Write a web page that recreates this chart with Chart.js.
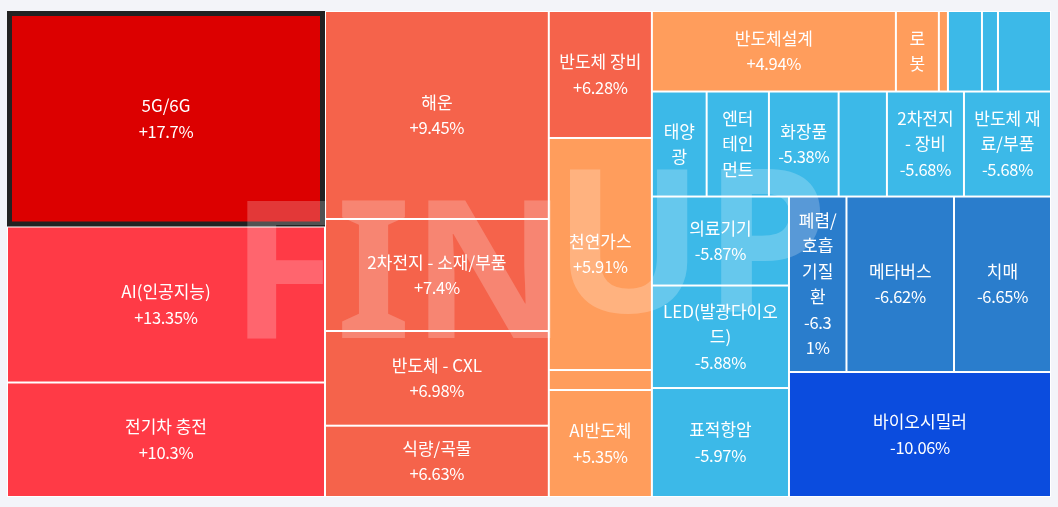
<!DOCTYPE html>
<html><head><meta charset="utf-8">
<script src="https://cdn.jsdelivr.net/npm/chart.js@4.4.1/dist/chart.umd.min.js"></script>
<style>html,body{margin:0;padding:0;background:#f3f4f9;overflow:hidden}canvas{display:block}</style>
</head><body>
<canvas id="c" width="1058" height="507"></canvas>
<script>
// ---- data (ordered by change, descending) ----
const names = ['5G/6G','AI(인공지능)','전기차 충전','해운','2차전지 - 소재/부품','반도체 - CXL','식량/곡물','반도체 장비','천연가스','','AI반도체','반도체설계','로봇','','','','','태양광','엔터테인먼트','화장품','','2차전지 - 장비','반도체 재료/부품','의료기기','LED(발광다이오드)','표적항암','폐렴/호흡기질환','메타버스','치매','바이오시밀러'];
const changes = [17.7,13.35,10.3,9.45,7.4,6.98,6.63,6.28,5.91,5.62,5.35,4.94,4.71,4.32,-4.93,-5.02,-5.11,-5.21,-5.33,-5.38,-5.52,-5.68,-5.68,-5.87,-5.88,-5.97,-6.31,-6.62,-6.65,-10.06];
const sizes = [685.3,496.1,364.1,465.5,250.7,211.9,159.6,130.9,239.2,20.6,110.3,196.5,34.6,7.3,27.4,12.9,42.7,57.5,65.4,73.2,50.7,80.9,91.4,122.0,140.5,149.4,100.9,188.7,170.2,327.5];
const selectedIndex = 0;

function colorFor(v){
  if (v >= 15) return '#dc0000';
  if (v >= 10) return '#ff3a46';
  if (v >= 6) return '#f5634b';
  if (v > 0) return '#ff9d5c';
  if (v > -6) return '#3cb9e8';
  if (v > -10) return '#2a7dcc';
  return '#0b4cde';
}
function fmt(v){ return (v > 0 ? '+' : '') + v + '%'; }

const PHI = (1 + Math.sqrt(5)) / 2;
function squarify(values, x0, y0, x1, y1){
  const n = values.length, out = new Array(n);
  let value = values.reduce((a,b)=>a+b,0), i0 = 0, i1 = 0;
  while (i0 < n){
    const dx = x1 - x0, dy = y1 - y0;
    let sumValue, minValue, maxValue, newRatio, minRatio, alpha, beta, nodeValue;
    do sumValue = values[i1++]; while (!sumValue && i1 < n);
    minValue = maxValue = sumValue;
    alpha = Math.max(dy/dx, dx/dy) / (value * PHI);
    beta = sumValue * sumValue * alpha;
    minRatio = Math.max(maxValue/beta, beta/minValue);
    for (; i1 < n; ++i1){
      sumValue += nodeValue = values[i1];
      if (nodeValue < minValue) minValue = nodeValue;
      if (nodeValue > maxValue) maxValue = nodeValue;
      beta = sumValue * sumValue * alpha;
      newRatio = Math.max(maxValue/beta, beta/minValue);
      if (newRatio > minRatio){ sumValue -= nodeValue; break; }
      minRatio = newRatio;
    }
    if (dx < dy){
      const ny = dy ? y0 + dy * sumValue / value : y1;
      let x = x0; const k = sumValue ? dx / sumValue : 0;
      for (let i = i0; i < i1; i++){ const w = values[i]*k; out[i] = {x0:x, y0:y0, x1:x+w, y1:ny}; x += w; }
      y0 = ny;
    } else {
      const nx = dx ? x0 + dx * sumValue / value : x1;
      let y = y0; const k = sumValue ? dy / sumValue : 0;
      for (let i = i0; i < i1; i++){ const h = values[i]*k; out[i] = {x0:x0, y0:y, x1:nx, y1:y+h}; y += h; }
      x0 = nx;
    }
    value -= sumValue; i0 = i1;
  }
  return out;
}

function tokenize(s){
  const chars = Array.from(s), toks = [];
  for (const c of chars){
    const last = toks.length ? toks[toks.length-1] : null;
    if (last !== null && last !== ' ' && /[)%\/.,]/.test(c)) toks[toks.length-1] += c;
    else if (last !== null && /\($/.test(last)) toks[toks.length-1] += c;
    else toks.push(c);
  }
  return toks;
}
function wrap(ctx, text, maxW){
  const toks = tokenize(text), lines = [];
  let cur = '';
  for (const t of toks){
    if (cur === '' && t === ' ') continue;
    if (t !== ' ' && ctx.measureText(t).width > maxW) return null;
    const trial = cur + t;
    if (cur === '' || ctx.measureText(trial.trimEnd()).width <= maxW) cur = trial;
    else { lines.push(cur.trimEnd()); cur = t === ' ' ? '' : t; }
  }
  if (cur.trimEnd()) lines.push(cur.trimEnd());
  return lines;
}

const NAME_FONT = '17px "Noto Sans CJK KR", "Noto Sans", sans-serif';
const PCT_FONT = '16.5px "Noto Sans CJK KR", "Noto Sans", sans-serif';
const PCT_SPACING = '-0.3px';
const LH = 25.5, PADX = 7.5, PADY = 8;

const treemapPlugin = {
  id: 'treemap',
  beforeDatasetsDraw(chart){
    const ctx = chart.ctx, xs = chart.scales.x, ys = chart.scales.y;
    const pxW = xs.getPixelForValue(1) - xs.getPixelForValue(0);
    const pxH = ys.getPixelForValue(1) - ys.getPixelForValue(0);
    const rects = squarify(sizes, 0, 0, pxW, pxH).map(r => ({
      left: xs.getPixelForValue(r.x0 / pxW), right: xs.getPixelForValue(r.x1 / pxW),
      top: ys.getPixelForValue(r.y0 / pxH), bottom: ys.getPixelForValue(r.y1 / pxH)
    }));
    const a = chart.chartArea;
    ctx.save();
    ctx.fillStyle = '#ffffff';
    ctx.fillRect(a.left, a.top, a.right - a.left, a.bottom - a.top);
    rects.forEach((r, i) => {
      ctx.fillStyle = colorFor(changes[i]);
      ctx.fillRect(r.left + 1, r.top + 1, r.right - r.left - 2, r.bottom - r.top - 2);
    });
    // selected cell outline
    const s = rects[selectedIndex];
    ctx.strokeStyle = '#222222';
    ctx.lineWidth = 5;
    ctx.strokeRect(s.left + 2.5, s.top + 2.5, s.right - s.left - 5, s.bottom - s.top - 5);
    // watermark
    ctx.fillStyle = 'rgba(255,255,255,0.22)';
    ctx.textAlign = 'left';
    ctx.textBaseline = 'alphabetic';
    ctx.font = 'bold 193px "Noto Sans", sans-serif';
    ctx.fillText('FIN', a.left + 223, a.top + 327);
    ctx.font = 'bold 200px "Noto Sans", sans-serif';
    ctx.fillText('UP', a.left + 546, a.top + 301);
    // labels
    ctx.fillStyle = '#ffffff';
    ctx.textAlign = 'center';
    ctx.textBaseline = 'middle';
    const setName = () => { ctx.font = NAME_FONT; if ('letterSpacing' in ctx) ctx.letterSpacing = '0px'; };
    const setPct = () => { ctx.font = PCT_FONT; if ('letterSpacing' in ctx) ctx.letterSpacing = PCT_SPACING; };
    rects.forEach((r, i) => {
      if (!names[i]) return;
      const w = r.right - r.left - 2, h = r.bottom - r.top - 2;
      const aw = w - 2*PADX, ah = h - 2*PADY;
      setName();
      const nl = wrap(ctx, names[i], aw);
      if (!nl || !nl.length) return;
      setPct();
      const pl = wrap(ctx, fmt(changes[i]), aw);
      const showPct = pl && (nl.length + pl.length) * LH <= ah;
      const total = nl.length + (showPct ? pl.length : 0);
      if (total * LH > ah + LH * 0.5) return;
      const cx = (r.left + r.right) / 2, cy = (r.top + r.bottom) / 2;
      const y0 = cy - (total - 1) * LH / 2;
      setName();
      nl.forEach((t, k) => ctx.fillText(t, cx, y0 + k * LH));
      if (showPct){
        setPct();
        pl.forEach((t, k) => ctx.fillText(t, cx, y0 + (nl.length + k) * LH));
      }
    });
    ctx.restore();
  }
};

new Chart(document.getElementById('c'), {
  type: 'scatter',
  data: { datasets: [{ data: [], pointRadius: 0 }] },
  options: {
    responsive: false, animation: false, devicePixelRatio: 1,
    layout: { padding: { left: 7, top: 11, right: 7, bottom: 10 } },
    plugins: { legend: { display: false }, tooltip: { enabled: false } },
    scales: {
      x: { type: 'linear', min: 0, max: 1, display: false },
      y: { type: 'linear', min: 0, max: 1, reverse: true, display: false }
    }
  },
  plugins: [treemapPlugin]
});
</script>
</body></html>
